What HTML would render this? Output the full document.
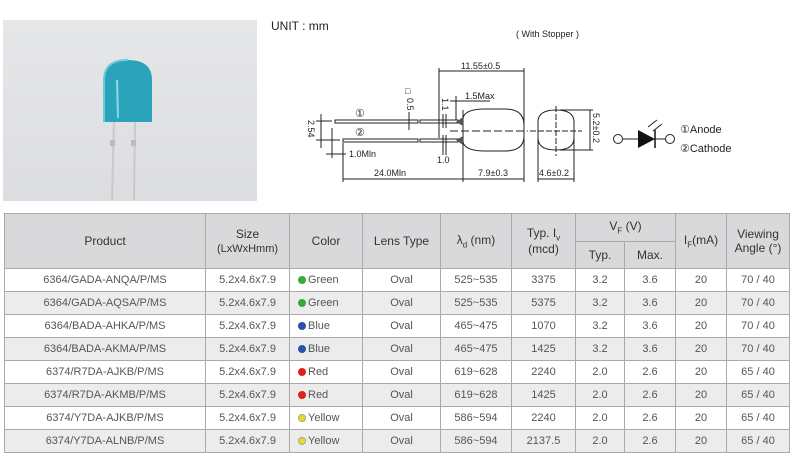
<!DOCTYPE html>
<html><head><meta charset="utf-8"><style>
body{margin:0;width:800px;height:463px;background:#fff;overflow:hidden;font-family:"Liberation Sans",Arial,sans-serif;position:relative}
table{position:absolute;left:4px;top:213px;border-collapse:collapse;font-size:11px;color:#555}
td,th{border:1px solid #aaa;text-align:center;padding:0;font-weight:normal}
th{background:#d9d9dc;color:#333;font-size:12px}
tr.r td{height:22px}
tr.g td{background:#ececec}
.d{display:inline-block;width:8px;height:8px;border-radius:50%;margin-right:2px;vertical-align:-1px}
</style></head><body>
<div style="position:absolute;left:3px;top:20px;width:254px;height:181px;background:linear-gradient(#e6e7e9,#dcdde0)"></div>
<svg style="position:absolute;left:0;top:0" width="260" height="205">
<line x1="114" y1="120" x2="112" y2="200" stroke="#c9c9c9" stroke-width="2"/>
<line x1="135" y1="120" x2="134" y2="200" stroke="#c9c9c9" stroke-width="2"/>
<rect x="110" y="140" width="5" height="6" fill="#bbb"/><rect x="131" y="140" width="5" height="6" fill="#bbb"/>
<path d="M104 122 V80 Q104 60 128 60 Q152 60 152 80 V122 Z" fill="#2aa3bb"/>
<path d="M104 122 V80 Q104 60 128 60" fill="none" stroke="#6cc8da" stroke-width="2"/>
<line x1="117" y1="80" x2="118" y2="118" stroke="#8ad8e6" stroke-width="2"/>
</svg>
<div style="position:absolute;left:271px;top:19px;font-size:12px;color:#222">UNIT : mm</div>
<div style="position:absolute;left:516px;top:29px;font-size:9px;color:#222">( With Stopper )</div>
<svg style="position:absolute;left:260px;top:10px" width="530" height="180" font-family="Liberation Sans,sans-serif" font-size="9" fill="#222">
<g stroke="#222" fill="none" stroke-width="1">
<line x1="179" y1="58" x2="179" y2="128"/><line x1="264" y1="58" x2="264" y2="172"/><line x1="179" y1="61" x2="264" y2="61"/>
<path d="M203 108 Q205 99 225 99 L245 99 Q264 99 264 115 V126 Q264 141 245 141 L225 141 Q205 141 203 132 Z"/>
<line x1="203" y1="100" x2="203" y2="172"/>
<line x1="190" y1="121" x2="268" y2="121" stroke-dasharray="8,3"/>
<rect x="75" y="110" width="83" height="3"/><rect x="160" y="110" width="38" height="3"/>
<rect x="83" y="129" width="75" height="3"/><rect x="160" y="129" width="38" height="3"/>
<line x1="183" y1="104" x2="183" y2="118"/><line x1="186" y1="104" x2="186" y2="118"/>
<line x1="183" y1="125" x2="183" y2="145"/><line x1="186" y1="125" x2="186" y2="145"/>
<line x1="61" y1="104" x2="61" y2="138"/><line x1="56" y1="111" x2="72" y2="111"/><line x1="56" y1="130" x2="80" y2="130"/>
<line x1="72" y1="118" x2="72" y2="148"/><line x1="83" y1="133" x2="83" y2="172"/><line x1="66" y1="144" x2="86" y2="144"/>
<line x1="83" y1="169" x2="264" y2="169"/>
<line x1="278" y1="169" x2="314" y2="169"/><line x1="278" y1="110" x2="278" y2="172"/><line x1="314" y1="110" x2="314" y2="172"/>
<path d="M278 112 Q278 100 296 100 Q314 100 314 112 V128 Q314 140 296 140 Q278 140 278 128 Z"/>
<line x1="296" y1="96" x2="296" y2="146" stroke-dasharray="6,2"/><line x1="270" y1="121" x2="322" y2="121" stroke-dasharray="6,2"/>
<line x1="300" y1="100" x2="333" y2="100"/><line x1="300" y1="140" x2="333" y2="140"/><line x1="330" y1="100" x2="330" y2="140"/>
<line x1="190" y1="91" x2="230" y2="91"/><line x1="196" y1="86" x2="196" y2="110"/>
<line x1="149" y1="102" x2="149" y2="120"/>
<line x1="363" y1="129" x2="378" y2="129"/><line x1="395" y1="129" x2="406" y2="129"/>
<circle cx="358" cy="129" r="4.5"/><circle cx="410" cy="129" r="4.5"/>
<path d="M388 117 l9 -7 M393 121 l9 -7"/>
</g>
<path d="M378 120 L395 129 L378 138 Z" fill="#111"/><line x1="395" y1="120" x2="395" y2="138" stroke="#111" stroke-width="1.5"/>
<path d="M196 112 L203 107 V116 Z M196 130 L203 126 V135 Z" fill="#555"/>
<text x="201" y="59">11.55±0.5</text>
<text x="205" y="89">1.5Max</text>
<text x="145" y="84" font-size="9">□</text>
<text transform="translate(147 88) rotate(90)">0.5</text>
<text transform="translate(182 88) rotate(90)">1.1</text>
<text transform="translate(48 110) rotate(90)">2.54</text>
<text transform="translate(333 103) rotate(90)">5.2±0.2</text>
<text x="89" y="147">1.0Mln</text>
<text x="177" y="153">1.0</text>
<text x="114" y="166">24.0Mln</text>
<text x="218" y="166">7.9±0.3</text>
<text x="279" y="166">4.6±0.2</text>
<text x="95" y="107" font-size="11">①</text><text x="95" y="126" font-size="11">②</text>
<text x="420" y="123" font-size="11">①Anode</text>
<text x="420" y="142" font-size="11">②Cathode</text>
</svg>
<table>
<colgroup><col style="width:201px"><col style="width:84px"><col style="width:73px"><col style="width:78px"><col style="width:71px"><col style="width:64px"><col style="width:49px"><col style="width:51px"><col style="width:51px"><col style="width:63px"></colgroup>
<tr style="height:28px"><th rowspan="2">Product</th><th rowspan="2">Size<br><span style="font-size:11px">(LxWxHmm)</span></th><th rowspan="2">Color</th><th rowspan="2">Lens Type</th><th rowspan="2">λ<sub style="font-size:8px">d</sub> (nm)</th><th rowspan="2">Typ. I<sub style="font-size:8px">v</sub><br>(mcd)</th><th colspan="2">V<sub style="font-size:8px">F</sub> (V)</th><th rowspan="2">I<sub style="font-size:8px">F</sub>(mA)</th><th rowspan="2">Viewing<br>Angle (°)</th></tr>
<tr style="height:27px"><th>Typ.</th><th>Max.</th></tr>
<tr class="r"><td>6364/GADA-ANQA/P/MS</td><td>5.2x4.6x7.9</td><td style="text-align:left;padding-left:8px"><span class="d" style="background:#3aa83a"></span>Green</td><td>Oval</td><td>525~535</td><td>3375</td><td>3.2</td><td>3.6</td><td>20</td><td>70 / 40</td></tr>
<tr class="r g"><td>6364/GADA-AQSA/P/MS</td><td>5.2x4.6x7.9</td><td style="text-align:left;padding-left:8px"><span class="d" style="background:#3aa83a"></span>Green</td><td>Oval</td><td>525~535</td><td>5375</td><td>3.2</td><td>3.6</td><td>20</td><td>70 / 40</td></tr>
<tr class="r"><td>6364/BADA-AHKA/P/MS</td><td>5.2x4.6x7.9</td><td style="text-align:left;padding-left:8px"><span class="d" style="background:#2a52a8"></span>Blue</td><td>Oval</td><td>465~475</td><td>1070</td><td>3.2</td><td>3.6</td><td>20</td><td>70 / 40</td></tr>
<tr class="r g"><td>6364/BADA-AKMA/P/MS</td><td>5.2x4.6x7.9</td><td style="text-align:left;padding-left:8px"><span class="d" style="background:#2a52a8"></span>Blue</td><td>Oval</td><td>465~475</td><td>1425</td><td>3.2</td><td>3.6</td><td>20</td><td>70 / 40</td></tr>
<tr class="r"><td>6374/R7DA-AJKB/P/MS</td><td>5.2x4.6x7.9</td><td style="text-align:left;padding-left:8px"><span class="d" style="background:#e02020"></span>Red</td><td>Oval</td><td>619~628</td><td>2240</td><td>2.0</td><td>2.6</td><td>20</td><td>65 / 40</td></tr>
<tr class="r g"><td>6374/R7DA-AKMB/P/MS</td><td>5.2x4.6x7.9</td><td style="text-align:left;padding-left:8px"><span class="d" style="background:#e02020"></span>Red</td><td>Oval</td><td>619~628</td><td>1425</td><td>2.0</td><td>2.6</td><td>20</td><td>65 / 40</td></tr>
<tr class="r"><td>6374/Y7DA-AJKB/P/MS</td><td>5.2x4.6x7.9</td><td style="text-align:left;padding-left:8px"><span class="d" style="background:#e8d830;box-shadow:0 0 0 1px #aa9 inset"></span>Yellow</td><td>Oval</td><td>586~594</td><td>2240</td><td>2.0</td><td>2.6</td><td>20</td><td>65 / 40</td></tr>
<tr class="r g"><td>6374/Y7DA-ALNB/P/MS</td><td>5.2x4.6x7.9</td><td style="text-align:left;padding-left:8px"><span class="d" style="background:#e8d830;box-shadow:0 0 0 1px #aa9 inset"></span>Yellow</td><td>Oval</td><td>586~594</td><td>2137.5</td><td>2.0</td><td>2.6</td><td>20</td><td>65 / 40</td></tr>
</table>
</body></html>
